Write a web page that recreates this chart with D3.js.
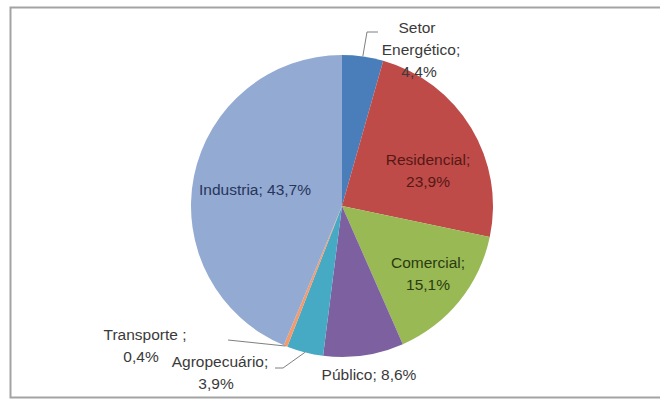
<!DOCTYPE html>
<html>
<head>
<meta charset="utf-8">
<script src="https://cdn.jsdelivr.net/npm/d3@7"></script>
<style>
  html, body { margin: 0; padding: 0; background: #fff; }
  svg { display: block; }
  text { font-family: "Liberation Sans Narrow", "Arial Narrow", "Liberation Sans", sans-serif; font-size: 15.5px; }
</style>
</head>
<body>
<svg id="chart" width="660" height="399"></svg>
<script>
// Consumption share by sector (%), clockwise from 12 o'clock
const sectors = ["Setor Energético", "Residencial", "Comercial", "Público", "Agropecuário", "Transporte", "Industria"];
const shares  = [4.4, 23.9, 15.1, 8.6, 3.9, 0.4, 43.7];
const labelLines = [
  ["Setor", "Energético;", "4,4%"],
  ["Residencial;", "23,9%"],
  ["Comercial;", "15,1%"],
  ["Público; 8,6%"],
  ["Agropecuário;", "3,9%"],
  ["Transporte ;", "0,4%"],
  ["Industria; 43,7%"]
];

const sliceColors = ["#4a7ebb", "#be4b48", "#98b954", "#7d60a0", "#46aac5", "#f59a6a", "#93aad3"];
const textColors  = ["#3a3a3a", "#561816", "#2c3b10", "#3a3a3a", "#3a3a3a", "#3a3a3a", "#27355a"];

// label anchors relative to the pie centre (per-line x nudges where needed)
const labelPos = [
  { dx: 78,   dy: -156, lines: [ -3, 1, -1 ] },
  { dx: 86,   dy: -35 },
  { dx: 86,   dy: 68 },
  { dx: 27,   dy: 169 },
  { dx: -122, dy: 167, lines: [ 0, -4 ] },
  { dx: -199, dy: 140, lines: [ 2, -2 ] },
  { dx: -87,  dy: -16 }
];
// leader-line bends for the outside labels
const leaders = [
  [[25, -174], [36, -174]],
  null, null, null,
  [[-59, 162], [-67, 162]],
  [[-114, 134]],
  null
];

const svg = d3.select("#chart");
const cx = 342, cy = 206, R = 151;

// frame
svg.append("rect")
  .attr("x", 10.5).attr("y", 7.5)
  .attr("width", 700).attr("height", 390)
  .attr("fill", "none")
  .attr("stroke", "#a3a3a3")
  .attr("stroke-width", 2);

const g = svg.append("g").attr("transform", `translate(${cx},${cy})`);

const pie = d3.pie().sort(null).value(d => d)(shares);
const arc = d3.arc().innerRadius(0).outerRadius(R);

g.selectAll("path.slice")
  .data(pie)
  .join("path")
  .attr("class", "slice")
  .attr("d", arc)
  .attr("fill", (d, i) => sliceColors[i])
  .attr("stroke", "none");

// leader lines from the rim at each slice's mid angle
const rimPoint = d => {
  const a = (d.startAngle + d.endAngle) / 2;
  return [Math.sin(a) * R, -Math.cos(a) * R];
};
pie.forEach((d, i) => {
  if (!leaders[i]) return;
  const pts = [rimPoint(d), ...leaders[i]];
  g.append("path")
    .attr("d", d3.line()(pts))
    .attr("fill", "none")
    .attr("stroke", "#7f7f7f")
    .attr("stroke-width", 1);
});

// data labels
const lineH = 22;
pie.forEach((d, i) => {
  const p = labelPos[i];
  const lines = labelLines[i];
  const t = g.append("text")
    .attr("text-anchor", "middle")
    .attr("fill", textColors[i]);
  const y0 = p.dy - (lines.length - 1) * lineH / 2;
  lines.forEach((s, k) => {
    t.append("tspan")
      .attr("x", p.dx + (p.lines ? p.lines[k] : 0))
      .attr("y", y0 + k * lineH)
      .attr("dy", "0.35em")
      .text(s);
  });
});
</script>
</body>
</html>
